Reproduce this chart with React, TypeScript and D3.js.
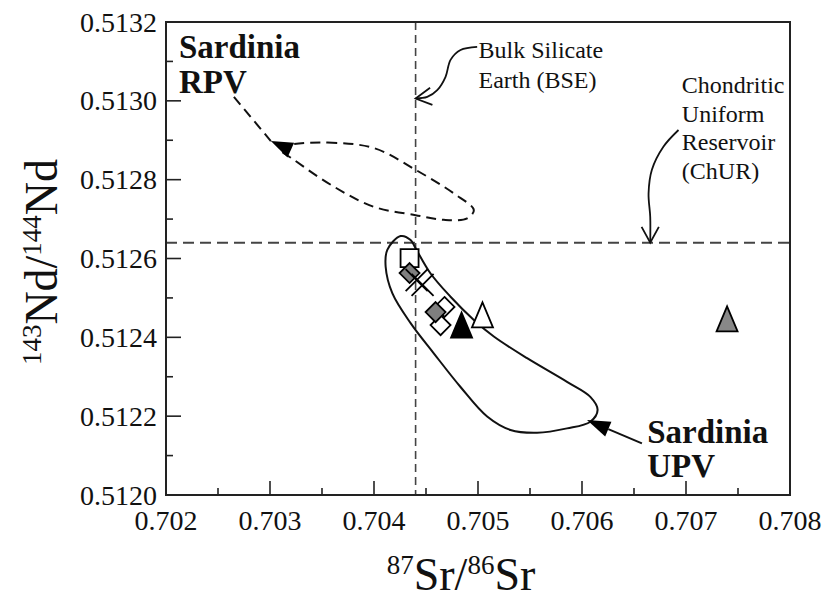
import React from 'react';
import * as d3 from 'd3';

type Pt = [number, number];

// axis ticks
const xTicks = [0.702, 0.703, 0.704, 0.705, 0.706, 0.707, 0.708];
const xMinor = [0.7025, 0.7035, 0.7045, 0.7055, 0.7065, 0.7075];
const yTicks = [0.512, 0.5122, 0.5124, 0.5126, 0.5128, 0.513, 0.5132];
const yMinor = [0.5121, 0.5123, 0.5125, 0.5127, 0.5129, 0.5131];

// reference reservoirs
const bseSr = 0.7044;
const churNd = 0.51264;

// samples (87Sr/86Sr, 143Nd/144Nd)
const openSquares: Pt[] = [[0.704342, 0.512601]];
const openDiamonds: Pt[] = [[0.704678, 0.512477], [0.70464, 0.512431]];
const grayDiamonds: Pt[] = [[0.704342, 0.512563], [0.704592, 0.512464]];
const crosses: Pt[] = [[0.70441, 0.512545], [0.704467, 0.512533]];
const blackTriangles: Pt[] = [[0.704842, 0.512431]];
const openTriangles: Pt[] = [[0.705043, 0.512457]];
const grayTriangles: Pt[] = [[0.707395, 0.512447]];

// fields
const upvField: Pt[] = [
  [0.704256, 0.512657], [0.704128, 0.512622], [0.704112, 0.512579], [0.704176, 0.512512],
  [0.704352, 0.512436], [0.704573, 0.51236], [0.704832, 0.512274], [0.705088, 0.512199],
  [0.705312, 0.512165], [0.705568, 0.512158], [0.705856, 0.512169], [0.70608, 0.512186],
  [0.70615, 0.512216], [0.70608, 0.512249], [0.705856, 0.512287], [0.705472, 0.512347],
  [0.705152, 0.512402], [0.70496, 0.512444], [0.704736, 0.512503], [0.704544, 0.512562],
  [0.7044, 0.512626], [0.704352, 0.512647],
];
const rpvField: Pt[] = [
  [0.703168, 0.512888], [0.703552, 0.512894], [0.704, 0.51288], [0.7044, 0.512825],
  [0.704768, 0.512765], [0.70496, 0.512723], [0.704896, 0.512702], [0.704672, 0.512698],
  [0.7044, 0.51271], [0.704, 0.512731], [0.703616, 0.512782], [0.703232, 0.51285],
  [0.703085, 0.51288],
];

// leaders and arrows
const rpvLeader: Pt[] = [[0.702653, 0.51301], [0.703008, 0.512898]];
const rpvHead: Pt[] = [[0.7032, 0.512875], [0.703008, 0.512898]];
const upvLeader: Pt[] = [[0.706576, 0.512131], [0.706253, 0.512167]];
const upvHead: Pt[] = [[0.706253, 0.512167], [0.706048, 0.51219]];
const bseArrow: Pt[] = [
  [0.704992, 0.513137], [0.704832, 0.513129], [0.704736, 0.513104], [0.704688, 0.513061],
  [0.704608, 0.513027], [0.704512, 0.51301], [0.7044, 0.513006],
];
const churArrow: Pt[] = [
  [0.706928, 0.512926], [0.706784, 0.512884], [0.706672, 0.512825], [0.70664, 0.512765],
  [0.706656, 0.512706], [0.706656, 0.51264],
];

const serif = { fontFamily: "'Liberation Serif'" };
const ink = '#111';

const x = d3.scaleLinear().domain([0.702, 0.708]).range([166, 790]);
const y = d3.scaleLinear().domain([0.512, 0.5132]).range([495, 22]);
const line = d3.line<Pt>().x(d => x(d[0])).y(d => y(d[1]));
const closed = d3.line<Pt>().x(d => x(d[0])).y(d => y(d[1])).curve(d3.curveCatmullRomClosed);
const smooth = d3.line<Pt>().x(d => x(d[0])).y(d => y(d[1])).curve(d3.curveCatmullRom);

function solidHead(pts: Pt[]) {
  const bx = x(pts[0][0]), by = y(pts[0][1]);
  const tx = x(pts[1][0]), ty = y(pts[1][1]);
  const len = Math.hypot(tx - bx, ty - by);
  const nx = -(ty - by) / len, ny = (tx - bx) / len;
  const hw = 8;
  return `M${tx},${ty}L${bx + nx * hw},${by + ny * hw}L${bx - nx * hw},${by - ny * hw}Z`;
}

function openHead(pts: Pt[]) {
  const a = pts[pts.length - 2], b = pts[pts.length - 1];
  const tx = x(b[0]), ty = y(b[1]);
  const ang = Math.atan2(ty - y(a[1]), tx - x(a[0]));
  const L = 18, spread = 0.5;
  const p1 = [tx - L * Math.cos(ang - spread), ty - L * Math.sin(ang - spread)];
  const p2 = [tx - L * Math.cos(ang + spread), ty - L * Math.sin(ang + spread)];
  return `M${p1[0]},${p1[1]}L${tx},${ty}L${p2[0]},${p2[1]}`;
}

const square = (cx: number, cy: number) => { const s = 9; return `M${cx - s},${cy - s}h${2 * s}v${2 * s}h${-2 * s}Z`; };
const diamond = (cx: number, cy: number) => { const r = 10; return `M${cx},${cy - r}L${cx + r},${cy}L${cx},${cy + r}L${cx - r},${cy}Z`; };
const tri = (cx: number, cy: number) => { const w = 10.5, h = 12.5; return `M${cx},${cy - h}L${cx + w},${cy + h}L${cx - w},${cy + h}Z`; };
const cross = (cx: number, cy: number) => { const r = 11; return `M${cx - r},${cy - r}L${cx + r},${cy + r}M${cx + r},${cy - r}L${cx - r},${cy + r}`; };

function Markers({ pts, shape, fill }: { pts: Pt[]; shape: (cx: number, cy: number) => string; fill: string }) {
  return (
    <g>
      {pts.map((d, i) => (
        <path key={i} d={shape(x(d[0]), y(d[1]))} fill={fill} stroke="#000" strokeWidth={1.8} />
      ))}
    </g>
  );
}

function Label({ lines, px, py, size, step, bold }: { lines: string[]; px: number; py: number; size: number; step: number; bold?: boolean }) {
  return (
    <text style={serif} fontSize={size} fontWeight={bold ? 'bold' : 'normal'} fill={ink}>
      {lines.map((s, i) => (
        <tspan key={i} x={px} y={py + i * step}>{s}</tspan>
      ))}
    </text>
  );
}

export default function App() {
  const x0 = x(0.702), x1 = x(0.708), y0 = y(0.512), y1 = y(0.5132);
  return (
    <svg width={824} height={602} style={{ position: 'absolute', left: 0, top: 0, background: '#fff' }}>
      {/* reference lines */}
      <line x1={x(bseSr)} x2={x(bseSr)} y1={y1} y2={y0} stroke="#444" strokeWidth={1.6} strokeDasharray="8,5" />
      <line x1={x0} x2={x1} y1={y(churNd)} y2={y(churNd)} stroke="#444" strokeWidth={2} strokeDasharray="11,6" />

      {/* ticks, inward */}
      {xTicks.map(t => <line key={`xt${t}`} x1={x(t)} x2={x(t)} y1={y0} y2={y0 - 14} stroke="#222" strokeWidth={1.6} />)}
      {xMinor.map(t => <line key={`xm${t}`} x1={x(t)} x2={x(t)} y1={y0} y2={y0 - 7} stroke="#222" strokeWidth={1.6} />)}
      {yTicks.map(t => <line key={`yt${t}`} x1={x0} x2={x0 + 15} y1={y(t)} y2={y(t)} stroke="#222" strokeWidth={1.6} />)}
      {yMinor.map(t => <line key={`ym${t}`} x1={x0} x2={x0 + 7} y1={y(t)} y2={y(t)} stroke="#222" strokeWidth={1.6} />)}

      {/* tick labels */}
      {xTicks.map(t => (
        <text key={`xl${t}`} x={x(t)} y={y0 + 35} textAnchor="middle" style={serif} fontSize={28} fill={ink}>
          {d3.format('.3f')(t)}
        </text>
      ))}
      {yTicks.map(t => (
        <text key={`yl${t}`} x={x0 - 9} y={y(t) + 9.5} textAnchor="end" style={serif} fontSize={28} fill={ink}>
          {d3.format('.4f')(t)}
        </text>
      ))}

      {/* frame */}
      <rect x={x0} y={y1} width={x1 - x0} height={y0 - y1} fill="none" stroke="#222" strokeWidth={2} />

      {/* fields */}
      <path d={closed(upvField) ?? ''} fill="none" stroke={ink} strokeWidth={2} />
      <path d={closed(rpvField) ?? ''} fill="none" stroke={ink} strokeWidth={2} strokeDasharray="10,6" />

      {/* leaders */}
      <path d={line(rpvLeader) ?? ''} fill="none" stroke={ink} strokeWidth={2} strokeDasharray="10,6" />
      <path d={line(upvLeader) ?? ''} fill="none" stroke={ink} strokeWidth={2} />
      <path d={solidHead(rpvHead)} fill="#000" />
      <path d={solidHead(upvHead)} fill="#000" />
      {[bseArrow, churArrow].map((a, i) => (
        <g key={i} fill="none" stroke={ink} strokeWidth={1.8}>
          <path d={smooth(a) ?? ''} />
          <path d={openHead(a)} />
        </g>
      ))}

      {/* samples */}
      <Markers pts={openDiamonds} shape={diamond} fill="#fff" />
      <Markers pts={openSquares} shape={square} fill="#fff" />
      <Markers pts={grayDiamonds} shape={diamond} fill="#7f7f7f" />
      <Markers pts={crosses} shape={cross} fill="none" />
      <Markers pts={blackTriangles} shape={tri} fill="#000" />
      <Markers pts={openTriangles} shape={tri} fill="#fff" />
      <Markers pts={grayTriangles} shape={tri} fill="#888" />

      {/* annotations */}
      <Label lines={['Sardinia', 'RPV']} px={x(0.702125)} py={y(0.513108)} size={33} step={35} bold />
      <Label lines={['Sardinia', 'UPV']} px={x(0.706627)} py={y(0.512132)} size={33} step={34} bold />
      <Label lines={['Bulk Silicate', 'Earth (BSE)']} px={x(0.705005)} py={y(0.513109)} size={24} step={30} />
      <Label lines={['Chondritic', 'Uniform', 'Reservoir', '(ChUR)']} px={x(0.70696)} py={y(0.513019)} size={24} step={28.5} />

      {/* axis titles */}
      <text x={461} y={590} textAnchor="middle" style={serif} fontSize={46} fill={ink}>
        <tspan fontSize={27} dy={-16}>87</tspan>
        <tspan dy={16}>Sr/</tspan>
        <tspan fontSize={27} dy={-16}>86</tspan>
        <tspan dy={16}>Sr</tspan>
      </text>
      <text transform="translate(57,262) rotate(-90)" textAnchor="middle" style={serif} fontSize={46} fill={ink}>
        <tspan fontSize={27} dy={-16}>143</tspan>
        <tspan dy={16}>Nd/</tspan>
        <tspan fontSize={27} dy={-16}>144</tspan>
        <tspan dy={16}>Nd</tspan>
      </text>
    </svg>
  );
}
